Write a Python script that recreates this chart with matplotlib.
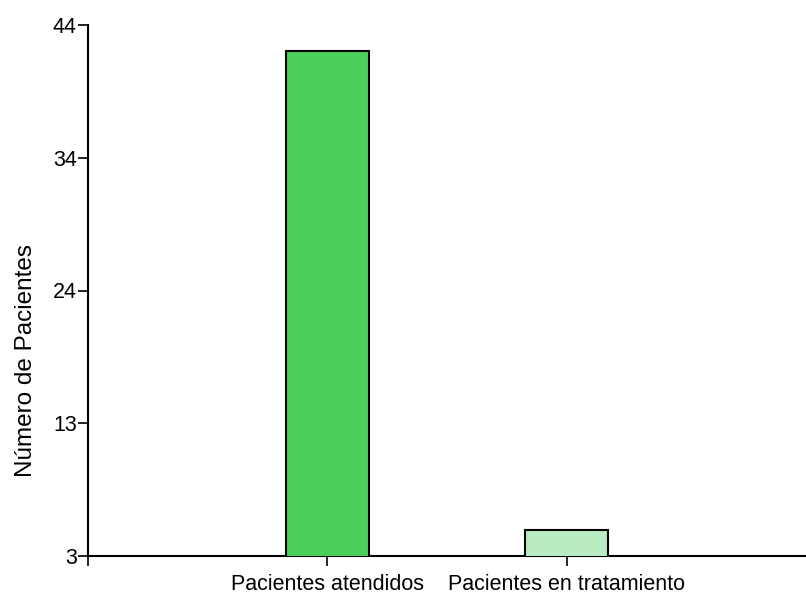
import matplotlib.pyplot as plt

plt.rcParams['font.family'] = ['Liberation Sans', 'DejaVu Sans']

categories = ['Pacientes atendidos', 'Pacientes en tratamiento']
pacientes = [42, 5]
colores = ['#4ACF5D', '#B9EBC1']
ytick_vals = [3, 13.25, 23.5, 33.75, 44]
ytick_labels = ['3', '13', '24', '34', '44']

fig = plt.figure(figsize=(8.06, 5.99), dpi=100)
ax = fig.add_axes([88 / 806, 1 - 556 / 599, 1 - 88 / 806, (556 - 25) / 599])

x = [1, 2]
ax.bar(x, pacientes, width=0.345, color=colores, edgecolor='black', linewidth=1.5, zorder=3)

ax.set_xlim(0, 3)
ax.set_ylim(3, 44)
ax.set_xticks([0] + x)
ax.set_xticklabels([''] + categories, fontsize=15.5)
ax.set_yticks(ytick_vals)
ax.set_yticklabels(ytick_labels, fontsize=15.5)
ax.set_ylabel('Número de Pacientes', fontsize=17.5)
ax.yaxis.set_label_coords(-0.071, 0.369)

for s in ['top', 'right']:
    ax.spines[s].set_visible(False)
for s in ['left', 'bottom']:
    ax.spines[s].set_linewidth(1.5)
ax.tick_params(axis='both', length=7, width=1.2, pad=1)
ax.tick_params(axis='x', pad=6)

fig.savefig('out.png', dpi=100)
